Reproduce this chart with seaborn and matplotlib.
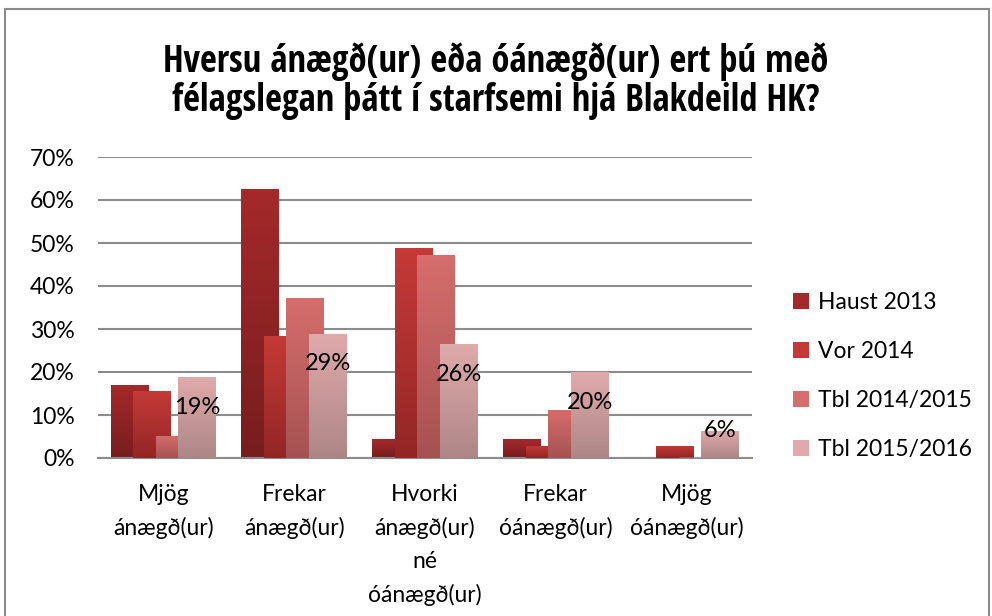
import matplotlib
matplotlib.use("Agg")
import matplotlib.pyplot as plt
import matplotlib.patches as mpatches
import seaborn as sns
import numpy as np
import pandas as pd

categories = ["Mjög\nánægð(ur)", "Frekar\nánægð(ur)", "Hvorki\nánægð(ur)\nné\nóánægð(ur)",
              "Frekar\nóánægð(ur)", "Mjög\nóánægð(ur)"]
series = ["Haust 2013", "Vor 2014", "Tbl 2014/2015", "Tbl 2015/2016"]
haust_2013 = [17.0, 62.6, 4.4, 4.4, 0.0]
vor_2014 = [15.6, 28.4, 48.8, 2.8, 2.8]
tbl_2014_2015 = [5.2, 37.3, 47.2, 11.2, 0.0]
tbl_2015_2016 = [18.8, 28.9, 26.4, 20.0, 6.3]
labels_2015_2016 = ["19%", "29%", "26%", "20%", "6%"]

# top / bottom colours of the Excel gradient
top_colors = ["#a5292a", "#c53a37", "#d56e6c", "#e0aaab"]
bottom_colors = ["#771d1e", "#932625", "#a65252", "#ae8686"]

rows = []
for name, vals in zip(series, [haust_2013, vor_2014, tbl_2014_2015, tbl_2015_2016]):
    for c, v in zip(categories, vals):
        rows.append({"cat": c, "series": name, "value": v})
df = pd.DataFrame(rows)

sns.set_style("white")
plt.rcParams["font.family"] = ["Lato", "DejaVu Sans"]
plt.rcParams["text.color"] = "black"
plt.rcParams["xtick.color"] = "black"
plt.rcParams["ytick.color"] = "black"

fig = plt.figure(figsize=(9.92, 6.16), dpi=100)
ax = fig.add_axes([98 / 992, 1 - 458 / 616, 654 / 992, 301 / 616])

sns.barplot(data=df, x="cat", y="value", hue="series", order=categories,
            hue_order=series, palette=top_colors, width=0.688, ax=ax,
            legend=False, saturation=1, errorbar=None)

# widen bars so they overlap like in the Excel chart
bar_w = 0.29
n = len(categories)
for i, p in enumerate(ax.patches[:n * len(series)]):
    s = i // n
    cx = p.get_x() + p.get_width() / 2
    p.set_x(cx - bar_w / 2)
    p.set_width(bar_w)
    p.set_zorder(2 + s)
    h = p.get_height()
    if h <= 0:
        continue
    c1 = np.array(matplotlib.colors.to_rgb(bottom_colors[s]))
    c2 = np.array(matplotlib.colors.to_rgb(top_colors[s]))
    t = np.linspace(0, 1, 64)[:, None]
    grad = (c1 * (1 - t) + c2 * t)[:, None, :]
    p.set_facecolor("none")
    p.set_edgecolor("none")
    im = ax.imshow(grad, extent=[cx - bar_w / 2, cx + bar_w / 2, 0, h],
                   origin="lower", aspect="auto", zorder=2 + s)
    im.set_clip_path(p)

ax.set_xlim(-0.5, 4.5)
ax.set_ylim(0, 70)

# data labels for Tbl 2015/2016
off = 0.688 / 4 * 1.5
for i, (v, lab) in enumerate(zip(tbl_2015_2016, labels_2015_2016)):
    y = v - 7 if v > 10 else v
    ax.text(i + off, y, lab, ha="center", va="center", fontsize=17, zorder=10)

ax.set_yticks(np.arange(0, 71, 10))
ax.set_yticklabels([f"{t}%" for t in range(0, 71, 10)], fontsize=16.5)
ax.set_xticks(range(n))
ax.set_xticklabels(categories, fontsize=16.5, linespacing=1.66, va="top")
ax.tick_params(axis="x", length=0, pad=19)
ax.tick_params(axis="y", length=0, pad=17)
ax.yaxis.grid(True, color="#8c8c8c", linewidth=1.5, zorder=0)
ax.set_axisbelow(True)
for side in ["top", "right", "left"]:
    ax.spines[side].set_visible(False)
ax.spines["bottom"].set_color("#8c8c8c")
ax.spines["bottom"].set_linewidth(1.5)
ax.set_xlabel("")
ax.set_ylabel("")

handles = [mpatches.Patch(facecolor=c, edgecolor="none") for c in top_colors]
fig.legend(handles, series, loc="center left", bbox_to_anchor=(772 / 992, 1 - 376 / 616),
           frameon=False, fontsize=16.5, handlelength=0.7, handleheight=0.7,
           labelspacing=1.22, handletextpad=0.4)

title = fig.text(0.5, 1 - 81 / 616,
                 "Hversu ánægð(ur) eða óánægð(ur) ert þú með\nfélagslegan þátt í starfsemi hjá Blakdeild HK?",
                 ha="center", va="center", fontsize=31, fontweight="bold",
                 family=["Noto Sans ExtraCondensed", "Noto Sans Condensed",
                         "Open Sans Condensed", "DejaVu Sans"],
                 fontstretch="extra-condensed", linespacing=1.05)

# shrink the title to the reference width if the font is too wide
renderer = fig.canvas.get_renderer()
w = title.get_window_extent(renderer).width
if w > 662:
    title.set_fontsize(31 * 662 / w)

fig.patches.append(mpatches.Rectangle((5 / 992, -0.1), 984 / 992, 1.1 - 9 / 616,
                                      transform=fig.transFigure, fill=False,
                                      edgecolor="#8c8c8c", linewidth=1.5))

fig.savefig("out.png", dpi=100)
